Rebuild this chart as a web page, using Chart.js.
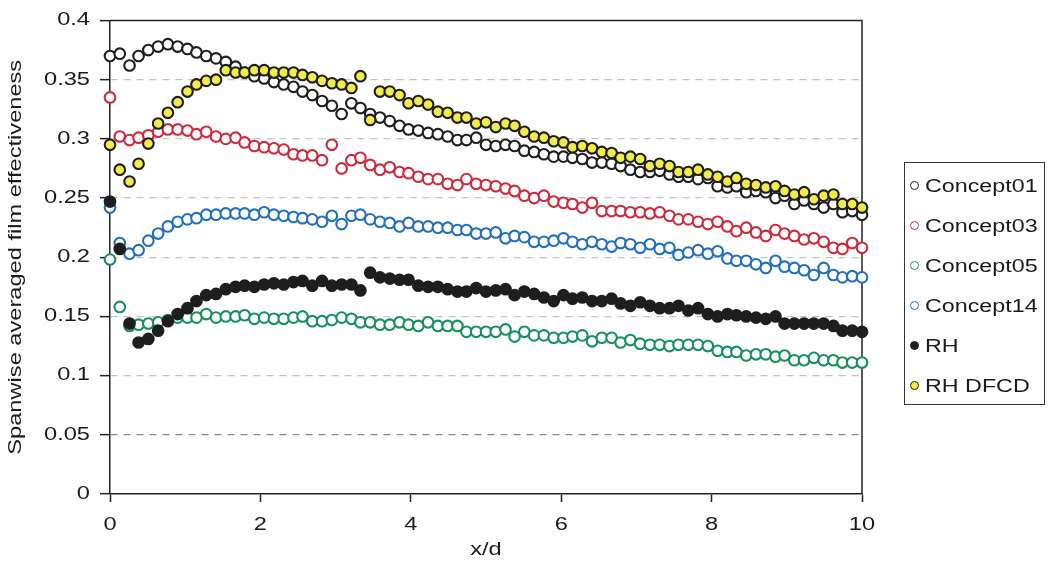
<!DOCTYPE html>
<html>
<head>
<meta charset="utf-8">
<script src="https://cdn.jsdelivr.net/npm/chart.js@4"></script>
<style>
  body { margin: 0; background: #fff; }
  #wrap { position: relative; width: 1050px; height: 565px; }
  #legend { position: absolute; left: 904px; top: 162px; width: 141px; height: 243px;
            border: 1px solid #333; font-family: "Liberation Sans", Arial, sans-serif;
            font-size: 17.5px; color: #1a1a1a; box-sizing: border-box; }
  .row { position: absolute; left: 0; height: 20px; line-height: 20px; white-space: nowrap; }
  .dot { position: absolute; left: 5px; top: 5px; width: 7px; height: 7px; border-radius: 50%; border: 1.6px solid; }
  .lbl { position: absolute; left: 20px; top: 0; transform: scaleX(1.33); transform-origin: left center; }
</style>
</head>
<body>
<div id="wrap">
  <canvas id="grafico" width="1050" height="565"></canvas>
  <div id="legend"></div>
</div>
<script>
// x/d stations
const xd = [0, 0.13, 0.26, 0.38, 0.51, 0.64, 0.77, 0.90, 1.03, 1.15, 1.28, 1.41, 1.54, 1.67, 1.79, 1.92,
  2.05, 2.18, 2.31, 2.44, 2.56, 2.69, 2.82, 2.95, 3.08, 3.21, 3.33, 3.46, 3.59, 3.72, 3.85, 3.97,
  4.10, 4.23, 4.36, 4.49, 4.62, 4.74, 4.87, 5.00, 5.13, 5.26, 5.38, 5.51, 5.64, 5.77, 5.90, 6.03,
  6.15, 6.28, 6.41, 6.54, 6.67, 6.79, 6.92, 7.05, 7.18, 7.31, 7.44, 7.56, 7.69, 7.82, 7.95, 8.08,
  8.21, 8.33, 8.46, 8.59, 8.72, 8.85, 8.97, 9.10, 9.23, 9.36, 9.49, 9.62, 9.74, 9.87, 10.00];

const concept01 = [0.370, 0.372, 0.362, 0.370, 0.375, 0.378, 0.380, 0.378, 0.376, 0.373,
  0.370, 0.368, 0.365, 0.361, 0.356, 0.353, 0.351, 0.348, 0.346, 0.344,
  0.340, 0.337, 0.332, 0.328, 0.321, 0.330, 0.326, 0.321, 0.318, 0.315,
  0.311, 0.308, 0.307, 0.305, 0.304, 0.302, 0.299, 0.299, 0.301, 0.295,
  0.294, 0.295, 0.294, 0.290, 0.289, 0.287, 0.285, 0.285, 0.284, 0.283,
  0.280, 0.280, 0.279, 0.277, 0.274, 0.272, 0.272, 0.273, 0.270, 0.268,
  0.268, 0.266, 0.267, 0.260, 0.259, 0.260, 0.255, 0.256, 0.255, 0.250,
  0.252, 0.245, 0.248, 0.245, 0.242, 0.245, 0.238, 0.239, 0.236];

const concept03 = [0.335, 0.302, 0.299, 0.301, 0.303, 0.306, 0.308, 0.308, 0.307, 0.304,
  0.306, 0.302, 0.300, 0.301, 0.297, 0.294, 0.293, 0.292, 0.291, 0.287,
  0.286, 0.286, 0.282, 0.295, 0.275, 0.282, 0.284, 0.278, 0.274, 0.276,
  0.272, 0.271, 0.268, 0.266, 0.266, 0.262, 0.261, 0.266, 0.262,
  0.261, 0.260, 0.258, 0.256, 0.252, 0.250, 0.252, 0.247, 0.246, 0.245,
  0.242, 0.246, 0.239, 0.239, 0.239, 0.238, 0.238, 0.237, 0.238,
  0.235, 0.232, 0.232, 0.230, 0.228, 0.230, 0.226, 0.222, 0.225, 0.221,
  0.218, 0.223, 0.220, 0.218, 0.215, 0.216, 0.213, 0.208, 0.207, 0.212, 0.208];

const concept05 = [0.198, 0.158, 0.142, 0.143, 0.144, 0.145, 0.147, 0.149, 0.149, 0.149,
  0.152, 0.149, 0.150, 0.150, 0.151, 0.148, 0.149, 0.148, 0.148, 0.149,
  0.150, 0.146, 0.146, 0.147, 0.149, 0.148, 0.145, 0.145, 0.143, 0.143,
  0.145, 0.143, 0.142, 0.145, 0.142, 0.142, 0.142, 0.137, 0.137,
  0.137, 0.137, 0.139, 0.133, 0.137, 0.134, 0.134, 0.132, 0.132, 0.133,
  0.134, 0.129, 0.132, 0.132, 0.128, 0.130, 0.127, 0.126, 0.126,
  0.125, 0.126, 0.126, 0.126, 0.125, 0.121, 0.120, 0.120, 0.117, 0.118,
  0.118, 0.116, 0.117, 0.113, 0.113, 0.115, 0.113, 0.113, 0.111, 0.111, 0.111];

const concept14 = [0.242, 0.212, 0.203, 0.206, 0.214, 0.220, 0.226, 0.230, 0.232, 0.233,
  0.236, 0.236, 0.237, 0.237, 0.237, 0.236, 0.238, 0.236, 0.235, 0.234,
  0.233, 0.232, 0.230, 0.235, 0.228, 0.235, 0.236, 0.232, 0.230, 0.229,
  0.226, 0.229, 0.226, 0.226, 0.225, 0.225, 0.223, 0.223, 0.220,
  0.220, 0.221, 0.216, 0.218, 0.217, 0.213, 0.213, 0.214, 0.216, 0.213,
  0.211, 0.213, 0.211, 0.209, 0.212, 0.211, 0.208, 0.211, 0.207,
  0.208, 0.202, 0.204, 0.206, 0.203, 0.205, 0.199, 0.197, 0.197, 0.194,
  0.191, 0.197, 0.192, 0.191, 0.189, 0.185, 0.191, 0.185, 0.183, 0.184, 0.183];

const rh = [0.247, 0.207, 0.144, 0.128, 0.131, 0.138, 0.146, 0.152, 0.157, 0.163,
  0.168, 0.169, 0.173, 0.175, 0.176, 0.175, 0.177, 0.178, 0.177, 0.179,
  0.180, 0.176, 0.180, 0.176, 0.177, 0.177, 0.172, 0.187, 0.183, 0.182,
  0.181, 0.181, 0.176, 0.175, 0.175, 0.173, 0.171, 0.171, 0.174,
  0.171, 0.172, 0.173, 0.168, 0.171, 0.169, 0.166, 0.163, 0.168, 0.165,
  0.166, 0.163, 0.163, 0.165, 0.161, 0.159, 0.162, 0.159, 0.157,
  0.157, 0.159, 0.155, 0.157, 0.152, 0.150, 0.152, 0.151, 0.150, 0.149,
  0.148, 0.150, 0.144, 0.144, 0.144, 0.144, 0.144, 0.142, 0.138, 0.138, 0.137];

const rhDfcd = [0.295, 0.274, 0.264, 0.279, 0.296, 0.313, 0.322, 0.331, 0.340, 0.346,
  0.349, 0.350, 0.358, 0.356, 0.356, 0.358, 0.358, 0.356, 0.356,
  0.356, 0.354, 0.352, 0.349, 0.347, 0.346, 0.343, 0.353, 0.316, 0.340,
  0.340, 0.337, 0.330, 0.332, 0.329, 0.323, 0.322, 0.318, 0.318, 0.313,
  0.314, 0.310, 0.313, 0.311, 0.306, 0.302, 0.301, 0.298, 0.297, 0.293,
  0.294, 0.292, 0.289, 0.288, 0.284, 0.285, 0.283, 0.277, 0.279,
  0.277, 0.272, 0.272, 0.274, 0.270, 0.268, 0.264, 0.267, 0.262, 0.261,
  0.259, 0.260, 0.256, 0.253, 0.255, 0.249, 0.252, 0.253, 0.245, 0.245, 0.242];

const seriesNames = ['Concept01', 'Concept03', 'Concept05', 'Concept14', 'RH', 'RH DFCD'];
const seriesData = [concept01, concept03, concept05, concept14, rh, rhDfcd];
const edgeColors = ['#1e1e1e', '#cc2a3e', '#16905f', '#2270bb', '#1e1e1e', '#1e1e1e'];
const fillColors = ['#ffffff', '#ffffff', '#ffffff', '#ffffff', '#1e1e1e', '#f2ec4a'];
const drawOrder = [4, 5, 6, 5, 1, 0];
const yTicks = [0, 0.05, 0.1, 0.15, 0.2, 0.25, 0.3, 0.35, 0.4];

// stretch text horizontally, the original figure's lettering is wide
const SX = 1.35;
const ctx = document.getElementById('grafico').getContext('2d');
const origFill = ctx.fillText.bind(ctx);
const origMeasure = ctx.measureText.bind(ctx);
ctx.fillText = function (t, x, y, mw) {
  ctx.save();
  ctx.translate(x, y);
  ctx.scale(SX, 1);
  if (mw === undefined) origFill(t, 0, 0); else origFill(t, 0, 0, mw / SX);
  ctx.restore();
};
ctx.measureText = function (t) {
  const m = origMeasure(t);
  return { width: m.width * SX, actualBoundingBoxAscent: m.actualBoundingBoxAscent,
           actualBoundingBoxDescent: m.actualBoundingBoxDescent };
};

const frame = {
  id: 'frame',
  beforeDatasetsDraw(chart) {
    const a = chart.chartArea, c = chart.ctx;
    c.save();
    c.strokeStyle = '#222';
    c.lineWidth = 1.5;
    c.beginPath();
    c.moveTo(a.left, a.top); c.lineTo(a.right, a.top); c.lineTo(a.right, a.bottom);
    c.stroke();
    c.restore();
  }
};

const fontBase = { family: '"Liberation Sans", Arial, sans-serif', size: 17.5 };

new Chart(ctx, {
  type: 'scatter',
  data: {
    datasets: seriesNames.map((name, k) => ({
      label: name,
      data: xd.map((x, i) => ({ x: x, y: seriesData[k][i] })),
      pointRadius: 5.3,
      pointBorderWidth: 2.1,
      borderColor: edgeColors[k],
      backgroundColor: fillColors[k],
      pointHoverRadius: 5.3,
      order: drawOrder[k],
      clip: false
    }))
  },
  options: {
    responsive: false,
    animation: false,
    events: [],
    layout: { padding: { left: 0, top: 18, right: 188, bottom: 0 } },
    plugins: { legend: { display: false }, tooltip: { enabled: false } },
    scales: {
      x: {
        type: 'linear', min: 0, max: 10,
        afterFit: s => { s.height = 71; },
        ticks: { stepSize: 2, color: '#1a1a1a', font: fontBase, padding: 13, maxRotation: 0 },
        grid: { drawOnChartArea: false, drawTicks: true, tickLength: 8, tickColor: '#222', tickWidth: 1.5 },
        border: { display: true, color: '#222', width: 1.5 },
        title: { display: true, text: 'x/d', color: '#1a1a1a', font: fontBase, padding: { top: 0, bottom: 4 } }
      },
      y: {
        min: 0, max: 0.4,
        afterFit: s => { s.width = 110; },
        afterBuildTicks: s => { s.ticks = yTicks.map(v => ({ value: v })); },
        ticks: { color: '#1a1a1a', font: fontBase, padding: 10, callback: v => String(+v.toFixed(2)) },
        grid: {
          drawTicks: true, tickLength: 10, tickColor: '#222', tickWidth: 1.5,
          color: c => {
            const v = c.tick && c.tick.value;
            if (v === 0 || v === 0.4) return 'rgba(0,0,0,0)';
            if (Math.abs(v - 0.05) < 1e-6) return '#8a8a8a';
            return '#c4c4c4';
          },
          lineWidth: 1.3
        },
        border: { display: true, color: '#222', width: 1.5, dash: [7, 6] },
        title: { display: true, text: 'Spanwise averaged film effectiveness', color: '#1a1a1a', font: fontBase, padding: { top: 6, bottom: 0 } }
      }
    }
  },
  plugins: [frame]
});

// legend box
const legend = document.getElementById('legend');
seriesNames.forEach((name, k) => {
  const row = document.createElement('div');
  row.className = 'row';
  row.style.top = (13 + k * 40) + 'px';
  row.innerHTML = '<span class="dot" style="border-color:' + edgeColors[k] + ';background:' + fillColors[k] + '"></span>' +
                  '<span class="lbl">' + name + '</span>';
  legend.appendChild(row);
});
</script>
</body>
</html>
